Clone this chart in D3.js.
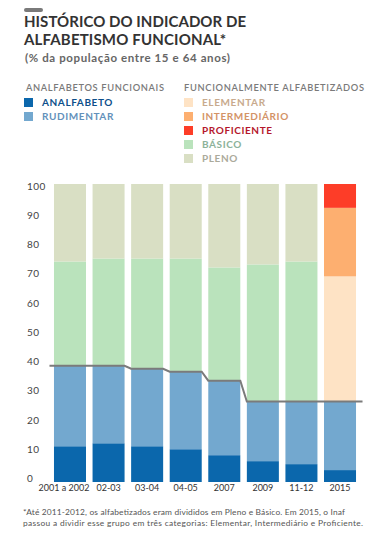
<!DOCTYPE html>
<html>
<head>
<meta charset="utf-8">
<script src="https://cdn.jsdelivr.net/npm/d3@7"></script>
<style>
  html, body { margin: 0; padding: 0; background: #fff; }
  svg { display: block; font-family: Lato, "Open Sans", sans-serif; }
</style>
</head>
<body>
<svg id="chart" width="378" height="538"></svg>
<script>
// ---- data ----
const categories = ["2001 a 2002", "02-03", "03-04", "04-05", "2007", "2009", "11-12", "2015"];
const analfabeto    = [12, 13, 12, 11, 9, 7, 6, 4];
const rudimentar    = [27, 26, 26, 26, 25, 20, 21, 23];
const basico        = [35, 36, 37, 38, 38, 46, 47, 0];
const pleno         = [26, 25, 25, 25, 28, 27, 26, 0];
const elementar     = [0, 0, 0, 0, 0, 0, 0, 42];
const intermediario = [0, 0, 0, 0, 0, 0, 0, 23];
const proficiente   = [0, 0, 0, 0, 0, 0, 0, 8];
const yTicks = [0, 10, 20, 30, 40, 50, 60, 70, 80, 90, 100];

const seriesKeys = ["analfabeto", "rudimentar", "basico", "elementar", "intermediario", "proficiente", "pleno"];
const seriesVals = { analfabeto, rudimentar, basico, pleno, elementar, intermediario, proficiente };
const colors = {
  analfabeto: "#0b67ac", rudimentar: "#73a8cf", basico: "#bae3bc", pleno: "#d9dfc4",
  elementar: "#fee3c5", intermediario: "#fdaf70", proficiente: "#fd3d28"
};

const legendLeft = [
  { key: "analfabeto", label: "ANALFABETO", color: "#0d4f8b" },
  { key: "rudimentar", label: "RUDIMENTAR", color: "#6391bb" }
];
const legendRight = [
  { key: "elementar", label: "ELEMENTAR", color: "#c8aa8d" },
  { key: "intermediario", label: "INTERMEDIÁRIO", color: "#d39367" },
  { key: "proficiente", label: "PROFICIENTE", color: "#b5172c" },
  { key: "basico", label: "BÁSICO", color: "#8cb29a" },
  { key: "pleno", label: "PLENO", color: "#abaa9b" }
];

const table = categories.map((c, i) => {
  const o = { cat: c };
  seriesKeys.forEach(k => o[k] = seriesVals[k][i]);
  return o;
});

const svg = d3.select("#chart");

// ---- header ----
svg.append("rect").attr("x", 24).attr("y", 8).attr("width", 19).attr("height", 4)
  .attr("rx", 2).attr("fill", "#7a7a7a");

svg.append("text").attr("x", 24).attr("y", 27).attr("fill", "#333").attr("font-weight", 700)
  .attr("font-size", 15).attr("textLength", 222).attr("lengthAdjust", "spacing")
  .text("HISTÓRICO DO INDICADOR DE");
svg.append("text").attr("x", 24).attr("y", 45).attr("fill", "#333").attr("font-weight", 700)
  .attr("font-size", 15).attr("textLength", 202).attr("lengthAdjust", "spacing")
  .text("ALFABETISMO FUNCIONAL*");

svg.append("text").attr("x", 25).attr("y", 62).attr("fill", "#666")
  .attr("font-weight", 700).attr("font-size", 11.5)
  .attr("textLength", 205).attr("lengthAdjust", "spacing")
  .text("(% da população entre 15 e 64 anos)");

// ---- legend ----
svg.append("text").attr("x", 26).attr("y", 91).attr("fill", "#7a7a7a")
  .attr("font-size", 9.3).attr("font-weight", 600)
  .attr("textLength", 138).attr("lengthAdjust", "spacing")
  .text("ANALFABETOS FUNCIONAIS");
svg.append("text").attr("x", 184).attr("y", 91).attr("fill", "#7a7a7a")
  .attr("font-size", 9.3).attr("font-weight", 600)
  .attr("textLength", 180).attr("lengthAdjust", "spacing")
  .text("FUNCIONALMENTE ALFABETIZADOS");

function drawLegend(items, x0) {
  const g = svg.append("g");
  items.forEach((d, i) => {
    const yy = 98 + i * 14;
    g.append("rect").attr("x", x0).attr("y", yy).attr("width", 9).attr("height", 9)
      .attr("fill", colors[d.key]);
    g.append("text").attr("x", x0 + 18).attr("y", yy + 8).attr("fill", d.color)
      .attr("font-size", 10).attr("font-weight", 700).attr("letter-spacing", 0.6)
      .text(d.label);
  });
}
drawLegend(legendLeft, 24);
drawLegend(legendRight, 184);

// ---- chart ----
const x = d3.scaleBand().domain(categories).range([50.7, 359.3])
  .paddingInner(0.17).paddingOuter(0.085);
const y = d3.scaleLinear().domain([0, 100]).range([482, 184]);
const yLabel = d3.scaleLinear().domain([0, 100]).range([478.5, 186]);

const stacked = d3.stack().keys(seriesKeys)(table);

const gBars = svg.append("g");
stacked.forEach(layer => {
  gBars.selectAll(null).data(layer.filter(d => d[1] - d[0] > 0)).enter().append("rect")
    .attr("x", d => x(d.data.cat))
    .attr("width", x.bandwidth())
    .attr("y", d => y(d[1]))
    .attr("height", d => y(d[0]) - y(d[1]))
    .attr("fill", colors[layer.key]);
});

// y axis labels (left-aligned, no line)
const yAxis = d3.axisLeft(yLabel).tickValues(yTicks).tickSize(0).tickPadding(0);
const gy = svg.append("g").attr("transform", "translate(27,0)").call(yAxis);
gy.select(".domain").remove();
gy.selectAll("text").attr("text-anchor", "start").attr("fill", "#444")
  .attr("font-size", 10).attr("font-family", "Lato, sans-serif").attr("letter-spacing", 0.4);

// x axis labels
const xAxis = d3.axisBottom(x).tickSize(0).tickPadding(0);
const gx = svg.append("g").attr("transform", "translate(0,485)").call(xAxis);
gx.select(".domain").remove();
gx.selectAll("text").attr("fill", "#333").attr("font-size", 9)
  .attr("font-family", "Lato, sans-serif").attr("letter-spacing", 0)
  .attr("dx", (d, i) => i === 0 ? -6 : 0);

// analfabetos funcionais line (top of rudimentar)
const totals = categories.map((c, i) => analfabeto[i] + rudimentar[i]);
const pts = [];
categories.forEach((c, i) => {
  const left = i === 0 ? x(c) - 4.5 : x(c);
  const right = i === categories.length - 1 ? x(c) + x.bandwidth() + 6.5 : x(c) + x.bandwidth();
  pts.push([left, y(totals[i])]);
  pts.push([right, y(totals[i])]);
});
svg.append("path").attr("d", d3.line()(pts)).attr("fill", "none")
  .attr("stroke", "#7b7b7b").attr("stroke-width", 2);

// ---- footnote ----
svg.append("text").attr("fill", "#555").attr("font-size", 8.4).attr("x", 23).attr("y", 515)
  .attr("textLength", 322).attr("lengthAdjust", "spacing")
  .text("*Até 2011-2012, os alfabetizados eram divididos em Pleno e Básico. Em 2015, o Inaf");
svg.append("text").attr("fill", "#555").attr("font-size", 8.4).attr("x", 23).attr("y", 525.5)
  .attr("textLength", 340).attr("lengthAdjust", "spacing")
  .text("passou a dividir esse grupo em três categorias: Elementar, Intermediário e Proficiente.");
</script>
</body>
</html>
